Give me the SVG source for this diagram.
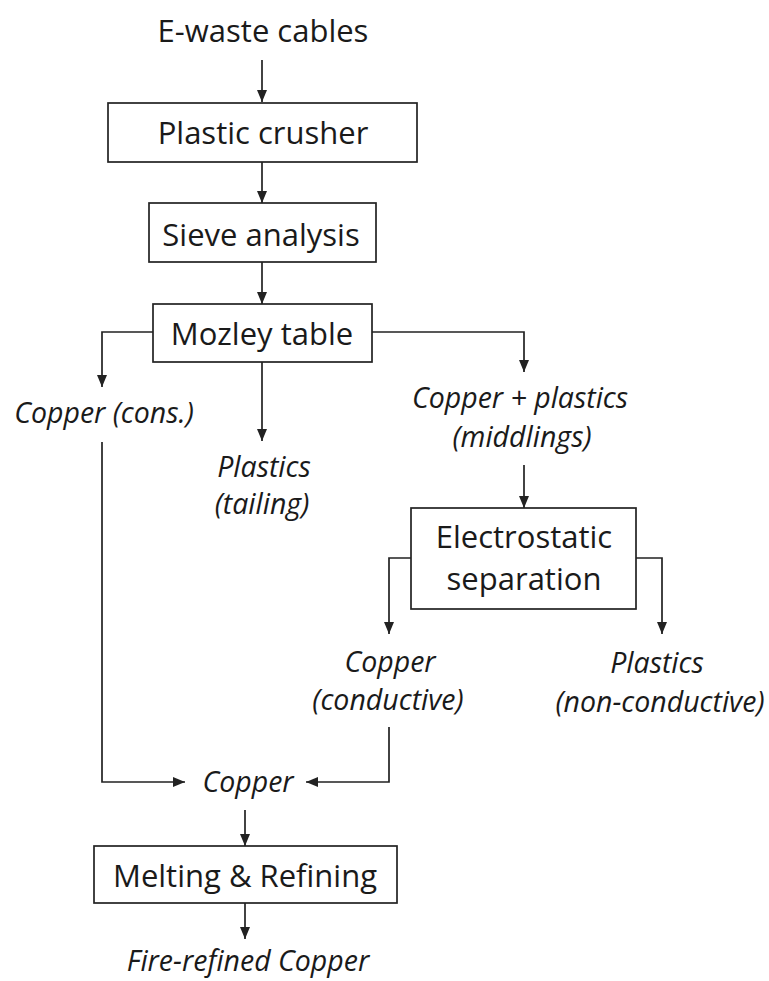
<svg xmlns="http://www.w3.org/2000/svg" width="769" height="981" viewBox="0 0 769 981">
<style>
.box{fill:#fff;stroke:#222;stroke-width:1.7}
.t{font-family:"Open Sans","Liberation Sans",sans-serif;font-size:31px;fill:#1a1a1a;text-anchor:middle}
.i{font-family:"Open Sans","Liberation Sans",sans-serif;font-size:28.5px;font-style:italic;fill:#1a1a1a;text-anchor:middle}
.c{fill:none;stroke:#222;stroke-width:1.7}
</style>
<defs>
<marker id="ah" markerWidth="12" markerHeight="12" viewBox="0 0 12 12" refX="12" refY="6" orient="auto" markerUnits="userSpaceOnUse">
<path d="M0,1 L12,6 L0,11 Z" fill="#222"/>
</marker>
</defs>
<g id="connectors">
<path class="c" d="M262,60 V102" marker-end="url(#ah)"/>
<path class="c" d="M262,162 V203" marker-end="url(#ah)"/>
<path class="c" d="M262,262 V304" marker-end="url(#ah)"/>
<path class="c" d="M153,332 H102 V387" marker-end="url(#ah)"/>
<path class="c" d="M262,362 V441" marker-end="url(#ah)"/>
<path class="c" d="M372,332 H524 V372" marker-end="url(#ah)"/>
<path class="c" d="M524,465 V508" marker-end="url(#ah)"/>
<path class="c" d="M411,558 H389 V634" marker-end="url(#ah)"/>
<path class="c" d="M636,558 H662 V634" marker-end="url(#ah)"/>
<path class="c" d="M102,442 V782 H185" marker-end="url(#ah)"/>
<path class="c" d="M389,727 V782 H306" marker-end="url(#ah)"/>
<path class="c" d="M245,810 V846" marker-end="url(#ah)"/>
<path class="c" d="M245,903 V939" marker-end="url(#ah)"/>
</g>
<g id="input"><text class="t" x="263" y="42">E-waste cables</text></g>
<g id="crusher"><rect class="box" x="108" y="103" width="309" height="59"/><text class="t" x="263" y="144">Plastic crusher</text></g>
<g id="sieve"><rect class="box" x="149" y="203" width="227" height="59"/><text class="t" x="261" y="246">Sieve analysis</text></g>
<g id="mozley"><rect class="box" x="153" y="304" width="219" height="58"/><text class="t" x="262" y="345">Mozley table</text></g>
<g id="copper-cons"><text class="i" x="104" y="423">Copper (cons.)</text></g>
<g id="plastics-tailing"><text class="i" x="264" y="477">Plastics</text><text class="i" x="262" y="514">(tailing)</text></g>
<g id="middlings"><text class="i" x="520" y="408">Copper + plastics</text><text class="i" x="522" y="447">(middlings)</text></g>
<g id="electrostatic"><rect class="box" x="411" y="508" width="225" height="101"/><text class="t" x="524" y="548">Electrostatic</text><text class="t" x="524" y="590">separation</text></g>
<g id="copper-conductive"><text class="i" x="390" y="672">Copper</text><text class="i" x="388" y="710">(conductive)</text></g>
<g id="plastics-nonconductive"><text class="i" x="657" y="673">Plastics</text><text class="i" x="660" y="712">(non-conductive)</text></g>
<g id="copper"><text class="i" x="248" y="792">Copper</text></g>
<g id="melting"><rect class="box" x="94" y="846" width="303" height="57"/><text class="t" x="245" y="887">Melting &amp; Refining</text></g>
<g id="output"><text class="i" x="248" y="971">Fire-refined Copper</text></g>
</svg>
